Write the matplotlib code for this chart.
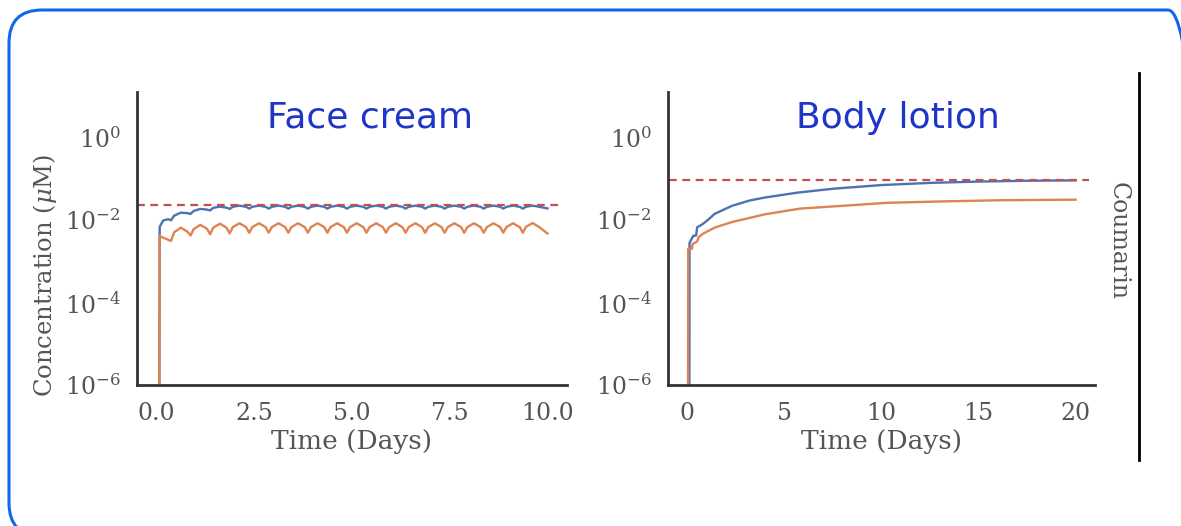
import matplotlib
matplotlib.use("Agg")
import matplotlib.pyplot as plt
from matplotlib.patches import FancyBboxPatch
from matplotlib.lines import Line2D

# face cream, twice daily application (10 days)
fc_time = [0.07, 0.08, 0.17, 0.30, 0.37,
           0.45, 0.62, 0.79, 0.87,
           0.95, 1.12, 1.29, 1.37,
           1.45, 1.62, 1.79, 1.87,
           1.95, 2.12, 2.29, 2.37,
           2.45, 2.62, 2.79, 2.87,
           2.95, 3.12, 3.29, 3.37,
           3.45, 3.62, 3.79, 3.87,
           3.95, 4.12, 4.29, 4.37,
           4.45, 4.62, 4.79, 4.87,
           4.95, 5.12, 5.29, 5.37,
           5.45, 5.62, 5.79, 5.87,
           5.95, 6.12, 6.29, 6.37,
           6.45, 6.62, 6.79, 6.87,
           6.95, 7.12, 7.29, 7.37,
           7.45, 7.62, 7.79, 7.87,
           7.95, 8.12, 8.29, 8.37,
           8.45, 8.62, 8.79, 8.87,
           8.95, 9.12, 9.29, 9.37,
           9.45, 9.62, 9.79, 10.0]
fc_blue = [1e-7, 0.0068, 0.0097, 0.0104, 0.0098,
           0.0127, 0.0150, 0.0146, 0.0140,
           0.0165, 0.0185, 0.0178, 0.0170,
           0.0196, 0.0210, 0.0198, 0.0185,
           0.0208, 0.0222, 0.0208, 0.0188,
           0.0208, 0.0222, 0.0208, 0.0188,
           0.0208, 0.0222, 0.0208, 0.0188,
           0.0208, 0.0222, 0.0208, 0.0188,
           0.0208, 0.0222, 0.0208, 0.0188,
           0.0208, 0.0222, 0.0208, 0.0188,
           0.0208, 0.0222, 0.0208, 0.0188,
           0.0208, 0.0222, 0.0208, 0.0188,
           0.0208, 0.0222, 0.0208, 0.0188,
           0.0208, 0.0222, 0.0208, 0.0188,
           0.0208, 0.0222, 0.0208, 0.0188,
           0.0208, 0.0222, 0.0208, 0.0188,
           0.0208, 0.0222, 0.0208, 0.0188,
           0.0208, 0.0222, 0.0208, 0.0188,
           0.0208, 0.0222, 0.0208, 0.0188,
           0.0208, 0.0222, 0.0208, 0.0190]
fc_orange = [1e-7, 0.0041, 0.0037, 0.0033, 0.0031,
             0.0050, 0.0065, 0.0052, 0.0042,
             0.0060, 0.0076, 0.0061, 0.0045,
             0.0065, 0.0081, 0.0065, 0.0047,
             0.0067, 0.0083, 0.0067, 0.0049,
             0.0067, 0.0083, 0.0067, 0.0049,
             0.0067, 0.0083, 0.0067, 0.0049,
             0.0067, 0.0083, 0.0067, 0.0049,
             0.0067, 0.0083, 0.0067, 0.0049,
             0.0067, 0.0083, 0.0067, 0.0049,
             0.0067, 0.0083, 0.0067, 0.0049,
             0.0067, 0.0083, 0.0067, 0.0049,
             0.0067, 0.0083, 0.0067, 0.0049,
             0.0067, 0.0083, 0.0067, 0.0049,
             0.0067, 0.0083, 0.0067, 0.0049,
             0.0067, 0.0083, 0.0067, 0.0049,
             0.0067, 0.0083, 0.0067, 0.0049,
             0.0067, 0.0083, 0.0067, 0.0049,
             0.0067, 0.0083, 0.0067, 0.0049,
             0.0068, 0.0084, 0.0067, 0.0047]
fc_limit = 0.0225

# body lotion (20 days)
bl_time_blue = [0.1, 0.11, 0.3, 0.45, 0.5, 0.76, 1.0, 1.4, 2.3, 3.2, 4.0, 5.7,
                7.5, 10.0, 12.5, 15.0, 17.5, 20.0]
bl_blue = [1e-7, 0.0028, 0.0041, 0.0042, 0.0066, 0.0078, 0.0095, 0.0140, 0.022, 0.0295,
           0.035, 0.046, 0.057, 0.070, 0.079, 0.085, 0.089, 0.091]
bl_time_orange = [0.03, 0.04, 0.24, 0.26, 0.5, 0.58, 0.76, 1.0, 1.44, 2.3, 4.0, 5.8,
                  8.0, 10.3, 13.0, 16.1, 20.0]
bl_orange = [1e-7, 0.0020, 0.0020, 0.0026, 0.0030, 0.0038, 0.0045, 0.0052, 0.0066, 0.0089,
             0.0137, 0.0188, 0.022, 0.026, 0.028, 0.030, 0.031]
bl_limit = 0.091

yticks = [1e-6, 1e-4, 1e-2, 1e0]
fc_xticks = [0.0, 2.5, 5.0, 7.5, 10.0]
bl_xticks = [0, 5, 10, 15, 20]

blue = "#4c72b0"
orange = "#dd8452"
red = "#c44e52"
grey = "#555555"
dash = (0, (3.5, 2.5))

plt.rcParams["font.family"] = "DejaVu Serif"
plt.rcParams["mathtext.fontset"] = "dejavuserif"

fig = plt.figure(figsize=(11.81, 5.26), dpi=100)
W, H = 1181, 526

ax1 = fig.add_axes([137 / W, 1 - 385 / H, (567 - 137) / W, (385 - 92) / H])
ax2 = fig.add_axes([668 / W, 1 - 385 / H, (1095 - 668) / W, (385 - 92) / H])


def style(ax, xticks, xlim, xfmt):
    ax.set_yscale("log")
    ax.set_ylim(1e-6, 10 ** 1.1)
    ax.set_xlim(*xlim)
    ax.set_yticks(yticks)
    ax.minorticks_off()
    ax.set_xticks(xticks)
    ax.set_xticklabels([xfmt.format(v) for v in xticks])
    for s in ["top", "right"]:
        ax.spines[s].set_visible(False)
    for s in ["left", "bottom"]:
        ax.spines[s].set_color("#333333")
        ax.spines[s].set_linewidth(2)
    ax.tick_params(length=0, labelsize=17, colors=grey)
    ax.tick_params(axis="y", pad=12)
    ax.tick_params(axis="x", pad=12)
    ax.set_xlabel("Time (Days)", fontsize=19, color=grey, labelpad=3)


ax1.plot(fc_time, fc_blue, color=blue, lw=1.7)
ax1.plot(fc_time, fc_orange, color=orange, lw=1.7)
ax1.hlines(fc_limit, -0.5, 10.3, colors=red, linestyles=dash, lw=1.6)
style(ax1, fc_xticks, (-0.5, 10.5), "{:.1f}")
ax1.set_ylabel(r"Concentration ($\mu$M)", fontsize=17.5, color=grey, labelpad=4)
ax1.yaxis.label.set_y(0.375)

ax2.plot(bl_time_blue, bl_blue, color=blue, lw=1.7)
ax2.plot(bl_time_orange, bl_orange, color=orange, lw=1.7)
ax2.hlines(bl_limit, -0.95, 20.7, colors=red, linestyles=dash, lw=1.6)
style(ax2, bl_xticks, (-1, 21), "{:d}")

# slide decorations
title_color = "#1f35c8"
fig.text(370 / W, 1 - 117 / H, "Face cream", family="DejaVu Sans", fontsize=26,
         color=title_color, ha="center", va="center")
fig.text(898 / W, 1 - 118 / H, "Body lotion", family="DejaVu Sans", fontsize=26,
         color=title_color, ha="center", va="center")
fig.text(1118 / W, 1 - 241 / H, "Coumarin", fontsize=17, color=grey,
         rotation=270, ha="center", va="center")

over = fig.add_axes([0, 0, 1, 1])
over.set_xlim(0, W)
over.set_ylim(0, H)
over.axis("off")
over.add_patch(FancyBboxPatch((9, H - 536), 1192, 526, boxstyle="round,pad=0,rounding_size=33",
                              fill=False, ec="#1166ee", lw=2.2))
over.add_line(Line2D([1139, 1139], [H - 73, H - 460], color="black", lw=2))

fig.savefig("out.png", dpi=100)
